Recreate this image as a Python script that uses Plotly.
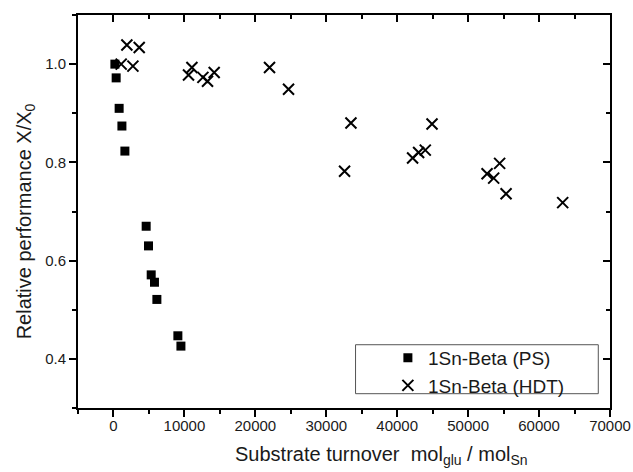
import plotly.graph_objects as go

# ---- data ----
ps_x = [200, 380, 800, 1190, 1610, 4610, 4940, 5320, 5780, 6120, 9080, 9510]
ps_y = [1.000, 0.972, 0.910, 0.874, 0.823, 0.670, 0.630, 0.571, 0.556, 0.521, 0.447, 0.426]

hdt_x = [1090, 1890, 2740, 3630, 10580, 11060, 12610, 13260, 14200, 22000, 24680,
         32580, 33480, 42170, 43020, 43960, 44910, 52670, 53600, 54440, 55350, 63330]
hdt_y = [1.000, 1.039, 0.996, 1.034, 0.978, 0.993, 0.973, 0.965, 0.983, 0.993, 0.949,
         0.782, 0.880, 0.809, 0.820, 0.825, 0.878, 0.777, 0.768, 0.798, 0.736, 0.718]

series_names = ["1Sn-Beta (PS)", "1Sn-Beta (HDT)"]
x_tickvals = [0, 10000, 20000, 30000, 40000, 50000, 60000, 70000]
y_tickvals = [0.4, 0.6, 0.8, 1.0]
x_range = [-5000, 70000]
y_range = [0.3, 1.1]
x_title = "Substrate turnover\u00a0 mol<sub>glu</sub> / mol<sub>Sn</sub>"
y_title = "Relative performance X/X<sub>0</sub>"

FONT = "Arial, Liberation Sans, sans-serif"
TXT = "#1a1a1a"

fig = go.Figure()
fig.add_trace(go.Scatter(
    x=ps_x, y=ps_y, mode="markers", name=series_names[0],
    marker=dict(symbol="square", size=9, color="black", line=dict(width=0)),
))
fig.add_trace(go.Scatter(
    x=hdt_x, y=hdt_y, mode="markers", name=series_names[1],
    marker=dict(symbol="x-thin-open", size=11, color="black",
                line=dict(width=2, color="black")),
))
# empty trace to activate the mirrored (inside-tick) axes
fig.add_trace(go.Scatter(x=[], y=[], xaxis="x2", yaxis="y2", showlegend=False,
                         hoverinfo="skip"))

axis_common = dict(showgrid=False, zeroline=False, linecolor="black", linewidth=2,
                   tickcolor="black", tickwidth=2, automargin=False,
                   tickfont=dict(family=FONT, size=15, color=TXT))

fig.update_layout(
    width=633, height=472,
    margin=dict(l=78, r=23, t=15, b=64),
    paper_bgcolor="white", plot_bgcolor="white",
    font=dict(family=FONT, color=TXT),
    xaxis=dict(
        range=x_range, tickvals=x_tickvals, tickformat="d", ticks="outside", ticklen=7,
        showline=True, mirror=True, ticklabelstandoff=-4,
        minor=dict(dtick=5000, tick0=0, ticks="outside", ticklen=4,
                   tickwidth=2, tickcolor="black"),
        **axis_common,
    ),
    yaxis=dict(
        range=y_range, tickvals=y_tickvals, tickformat=".1f", ticks="outside", ticklen=7,
        showline=True, mirror=True,
        minor=dict(dtick=0.1, tick0=0.3, ticks="outside", ticklen=4,
                   tickwidth=2, tickcolor="black"),
        **axis_common,
    ),
    xaxis2=dict(
        range=x_range, overlaying="x", side="top", anchor="y2",
        tickvals=x_tickvals, ticks="inside", ticklen=7, showticklabels=False,
        showline=False,
        minor=dict(dtick=5000, tick0=0, ticks="inside", ticklen=4,
                   tickwidth=2, tickcolor="black"),
        **axis_common,
    ),
    yaxis2=dict(
        range=y_range, overlaying="y", side="right", anchor="x2",
        tickvals=y_tickvals, ticks="inside", ticklen=7, showticklabels=False,
        showline=False,
        minor=dict(dtick=0.1, tick0=0.3, ticks="inside", ticklen=4,
                   tickwidth=2, tickcolor="black"),
        **axis_common,
    ),
    legend=dict(
        x=0.5825, y=0.176, xanchor="left", yanchor="top",
        bgcolor="rgba(0,0,0,0)", borderwidth=0,
        font=dict(family=FONT, size=19, color=TXT),
        itemwidth=30,
    ),
    shapes=[dict(type="rect", xref="paper", yref="paper",
                 x0=0.5217, x1=0.978, y0=0.0364, y1=0.161,
                 line=dict(color="#555555", width=1), fillcolor="rgba(0,0,0,0)")],
    annotations=[
        dict(text=x_title, xref="paper", yref="paper", x=0.57, y=0,
             xanchor="center", yanchor="middle", yshift=-47, showarrow=False,
             font=dict(family=FONT, size=20, color=TXT)),
        dict(text=y_title, xref="paper", yref="paper", x=0, y=0.475,
             xanchor="center", yanchor="middle", xshift=-53, textangle=-90,
             showarrow=False, font=dict(family=FONT, size=20, color=TXT)),
    ],
    showlegend=True,
)

fig.write_html("out.html")
